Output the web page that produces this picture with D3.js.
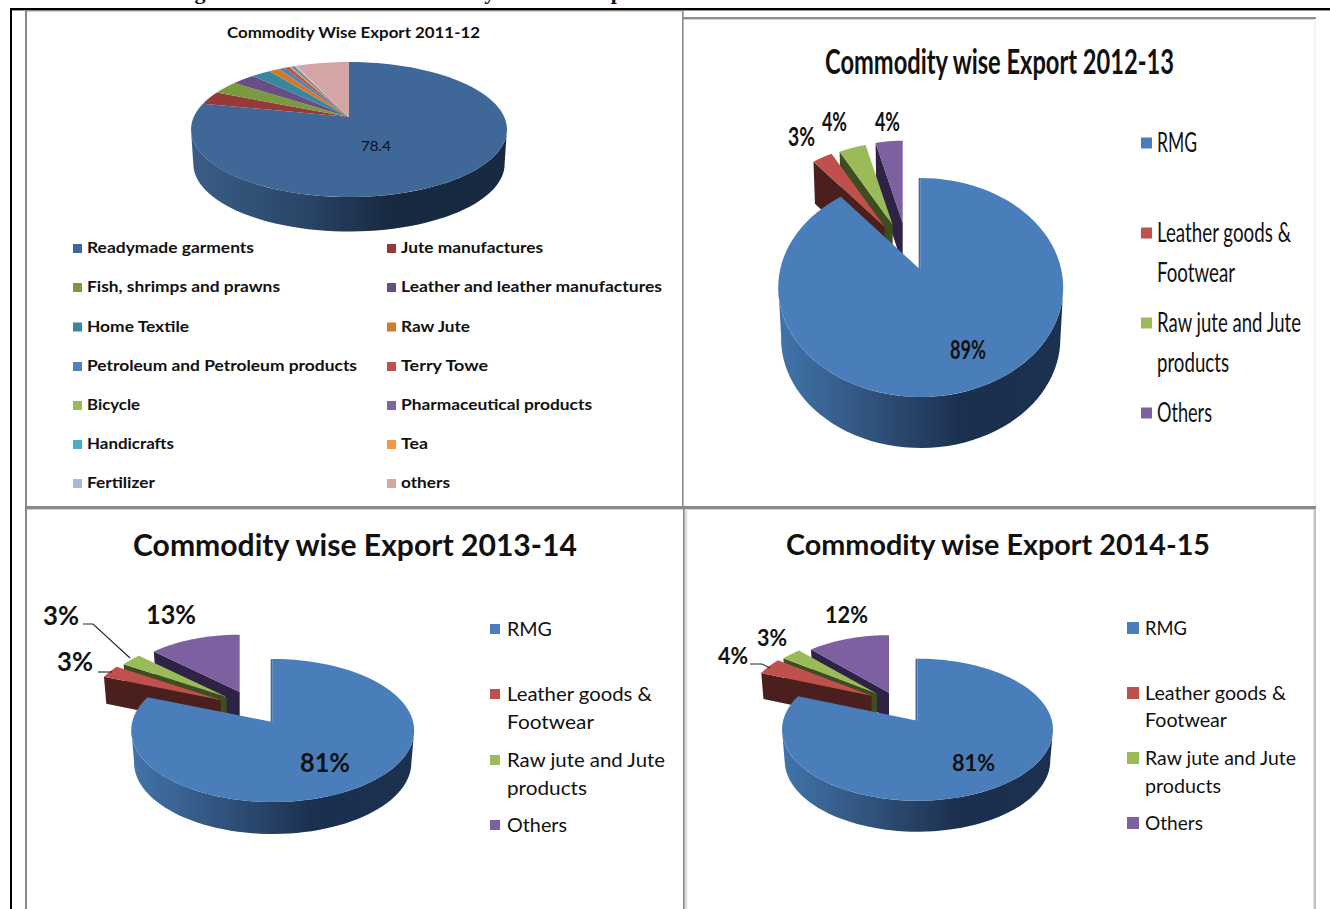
<!DOCTYPE html>
<html>
<head>
<meta charset="utf-8">
<script src="https://cdn.jsdelivr.net/npm/d3@7/dist/d3.min.js"></script>
<style>
  html, body { margin: 0; padding: 0; background: #fff; overflow: hidden; }
  svg { display: block; }
  text { font-family: Lato, "Noto Sans", sans-serif; fill: #111; }
</style>
</head>
<body>
<svg id="sheet" width="1330" height="909"></svg>
<script>
// Export share by commodity, one series per fiscal year
const categories1112 = ["Readymade garments", "Jute manufactures", "Fish, shrimps and prawns",
  "Leather and leather manufactures", "Home Textile", "Raw Jute",
  "Petroleum and Petroleum products", "Terry Towe", "Bicycle", "Pharmaceutical products",
  "Handicrafts", "Tea", "Fertilizer", "others"];
const values1112 = [78.4, 3.2, 3.2, 2.8, 2.4, 1.3, 0.7, 0.6, 0.3, 0.3, 0.1, 0.1, 0.1, 6.5];

// Grouped categories, split where their legend entries wrap
const categoriesGrouped = [["RMG"], ["Leather goods &", "Footwear"], ["Raw jute and Jute", "products"], ["Others"]];
const values1213 = [89, 3, 4, 4];
const values1314 = [81, 3, 3, 13];
const values1415 = [81, 4, 3, 12];

const title1112 = "Commodity Wise Export 2011-12";
const title1213 = "Commodity wise Export 2012-13";
const title1314 = "Commodity wise Export 2013-14";
const title1415 = "Commodity wise Export 2014-15";

const palette1112 = ["#3f6797", "#953a38", "#7a9a3f", "#674e85", "#38879f", "#d07a2e",
  "#4f81bd", "#c0504d", "#9bbb59", "#8064a2", "#4bacc6", "#f79646", "#a8b9d9", "#d4a5a5"];
const paletteGrouped = ["#4a7ebb", "#c0504d", "#9bbb59", "#7d60a0"];
const wallsGrouped = ["#3d6a9f", "#4b1f1e", "#3e4d1f", "#2e2245"];

const sheet = d3.select("#sheet");
const defs = sheet.append("defs");
const pieLayout = d3.pie().sort(null).value(d => d);
const pathOf = d3.line();

// Frames and rules of the page ------------------------------------------------
const rects = [
  [10, 8, 1320, 2.4, "#000"], [10, 8, 2, 901, "#000"],
  [25, 10, 2, 899, "#8a8a8a"], [26, 10, 657, 1.4, "#8a8a8a"],
  [682, 10, 1.6, 499, "#8a8a8a"], [683, 17, 633, 2.4, "#8f8f8f"],
  [1314, 19, 2, 488, "#f3f3f3"], [26, 506, 1290, 3.4, "#8a8a8a"],
  [683, 509, 1.8, 400, "#8a8a8a"], [684.8, 509, 2.4, 400, "#dddddd"],
  [1313.5, 509, 2.5, 400, "#c4c4c4"]
];
sheet.append("g").selectAll("rect").data(rects).join("rect")
  .attr("x", d => d[0]).attr("y", d => d[1]).attr("width", d => d[2]).attr("height", d => d[3])
  .attr("fill", d => d[4]);

// Caption sits above the frame, running off the top edge of the page
const caption = sheet.append("text").attr("y", -1.5)
  .style("font-family", "'Liberation Serif', serif").style("font-weight", 700).style("font-size", "22px");
[["Figure", 175], ["Commodity", 384], ["Export", 585]].forEach(([w, x]) =>
  caption.append("tspan").attr("x", x).text(w));

// Tilted-disc projection: a point on the disc at a clockwise angle from 12 o'clock
function projector(cfg) {
  const k = (cfg.front - cfg.back) / (cfg.front + cfg.back);
  const A = cfg.front * (1 - k);
  const R = cfg.rx * Math.sqrt(1 - k * k);
  return (angle, r = 1) => {
    const u = Math.sin(angle) * r, v = -Math.cos(angle) * r;
    const w = 1 - k * v;
    return [R * u / w, A * v / w];
  };
}

function drawLabel(g, t) {
  g.append("text")
    .attr("x", t.x).attr("y", t.y).attr("dy", "0.35em")
    .attr("textLength", t.w).attr("lengthAdjust", "spacingAndGlyphs")
    .style("font-size", t.size + "px").style("font-weight", t.bold ? 700 : 400)
    .text(t.text);
}

function drawPie(cfg, values, colors, walls) {
  const g = sheet.append("g");
  const proj = projector(cfg);
  const arcs = pieLayout(values);
  const arcPoints = (a0, a1, r) => d3.range(0, 1.0001, 1 / 90).map(t => proj(a0 + (a1 - a0) * t, r));

  // Gradient runs in the disc's own coordinates, centred on its apex
  const gradId = "side" + cfg.id;
  const grad = defs.append("linearGradient").attr("id", gradId)
    .attr("gradientUnits", "userSpaceOnUse")
    .attr("x1", -cfg.rx).attr("x2", cfg.rx).attr("y1", 0).attr("y2", 0);
  cfg.sideStops.forEach(([o, c]) => grad.append("stop").attr("offset", o).attr("stop-color", c));

  // Pulled-out wedges, back to front, each with its dark cut face
  const pulled = cfg.pulled || [];
  d3.range(arcs.length - 1, 0, -1).forEach(i => {
    const off = pulled[i];
    if (!off) return;
    const a = arcs[i];
    const node = g.append("g").attr("transform", `translate(${cfg.ax + off[0]},${cfg.ay + off[1]})`);
    const s = off[2];
    const d = cfg.pulledDepth;
    const p0 = proj(a.startAngle, s);
    node.append("path")
      .attr("d", pathOf([[0, 0], p0, [p0[0] * 0.98, p0[1] + d], [0, d]]) + "Z")
      .attr("fill", walls[i]);
    node.append("path")
      .attr("d", pathOf([[0, 0], ...arcPoints(a.startAngle, a.endAngle, s)]) + "Z")
      .attr("fill", colors[i]);
  });

  // Front rim of the disc, spanning between the widest points of its outline
  const disc = g.append("g").attr("transform", `translate(${cfg.ax},${cfg.ay})`);
  const rimSamples = arcPoints(45 * Math.PI / 180, arcs[0].endAngle, 1);
  const rimTop = rimSamples.slice(d3.maxIndex(rimSamples, p => p[0]), d3.minIndex(rimSamples, p => p[0]) + 1);
  const rimBottom = rimTop.map(([x, y]) => [x * cfg.floor, y + cfg.depth]).reverse();
  disc.append("path").attr("d", pathOf([...rimTop, ...rimBottom]) + "Z").attr("fill", `url(#${gradId})`);

  // Thin visible edge along the 12 o'clock cut
  if (cfg.pulled) {
    disc.append("path").attr("d", pathOf([[-1, 1], [-1, -cfg.back]]))
      .attr("stroke", walls[0]).attr("stroke-width", 2).attr("fill", "none");
  }

  // Top faces of the wedges still seated in the disc
  arcs.forEach((a, i) => {
    if (pulled[i]) return;
    disc.append("path")
      .attr("d", pathOf([[0, 0], ...arcPoints(a.startAngle, a.endAngle, 1)]) + "Z")
      .attr("fill", colors[i]);
  });

  (cfg.leaders || []).forEach(pts => {
    g.append("path").attr("d", pathOf(pts)).attr("fill", "none").attr("stroke", "#222").attr("stroke-width", 1.1);
  });
  (cfg.valueLabels || []).forEach(l => drawLabel(g, {
    ...l, size: cfg.labelSize, bold: cfg.labelBold,
    text: values[l.i] + (cfg.percent ? "%" : "")
  }));
  drawLabel(g, { ...cfg.title, bold: true });
  return g;
}

const darkSide = [[0, "#3a5d87"], [0.35, "#2a4668"], [0.62, "#182a42"], [1, "#182a42"]];
const brightSide = [[0, "#4274ab"], [0.35, "#2f5078"], [0.65, "#1b2f4e"], [1, "#1b3150"]];

// 2011-12: all commodities, two-column legend -----------------------------------
const g1 = drawPie({
  id: 1, ax: 349, ay: 117, rx: 158, back: 55, front: 80, depth: 34.5, floor: 0.985,
  sideStops: darkSide, labelSize: 14, labelBold: false, percent: false,
  valueLabels: [{ i: 0, x: 361, y: 146, w: 30 }],
  title: { text: title1112, x: 227, y: 33, w: 253, size: 15 }
}, values1112, palette1112, []);

const widths1112 = [167, 142, 193, 261, 102, 69, 270, 87, 53, 191, 87, 27, 68, 49];
const rowY1112 = [248, 287, 326.5, 366, 405, 444, 483];
const legend1 = g1.append("g").selectAll("g").data(categories1112).join("g");
legend1.append("rect")
  .attr("x", (d, i) => i % 2 ? 387 : 73)
  .attr("y", (d, i) => rowY1112[Math.floor(i / 2)] - 4)
  .attr("width", 9).attr("height", 9)
  .attr("fill", (d, i) => palette1112[i]);
legend1.append("text")
  .attr("x", (d, i) => i % 2 ? 401 : 87)
  .attr("y", (d, i) => rowY1112[Math.floor(i / 2)])
  .attr("dy", "0.35em")
  .attr("textLength", (d, i) => widths1112[i]).attr("lengthAdjust", "spacingAndGlyphs")
  .style("font-size", "14.5px").style("font-weight", 700)
  .text(d => d);

// Grouped legend: two of the entries wrap onto a second line
function groupedLegend(g, o) {
  categoriesGrouped.forEach((ls, i) => {
    g.append("rect").attr("x", o.markX).attr("y", o.ys[i][0] - o.mark / 2)
      .attr("width", o.mark).attr("height", o.mark).attr("fill", paletteGrouped[i]);
    ls.forEach((line, j) => drawLabel(g, {
      text: line, x: o.textX, y: o.ys[i][j], w: o.widths[i][j], size: o.size
    }));
  });
}

// 2012-13 ---------------------------------------------------------------------
const g2 = drawPie({
  id: 2, ax: 920.7, ay: 270, rx: 142.5, back: 92, front: 127, depth: 51, floor: 0.98,
  sideStops: brightSide, labelSize: 27, labelBold: true, percent: true,
  pulled: [null, [-36, -43, 0.88], [-28, -45, 0.88], [-18, -47, 0.88]], pulledDepth: 42,
  valueLabels: [
    { i: 1, x: 788, y: 137, w: 27 }, { i: 2, x: 822, y: 122, w: 25 },
    { i: 3, x: 875, y: 122, w: 25 }, { i: 0, x: 950, y: 350, w: 36 }
  ],
  title: { text: title1213, x: 825, y: 62, w: 349, size: 34 }
}, values1213, paletteGrouped, wallsGrouped);
groupedLegend(g2, {
  markX: 1141, mark: 11, textX: 1157, size: 27,
  ys: [[143], [233, 273], [323, 363], [413]],
  widths: [[40], [134, 78], [144, 72], [55]]
});

// 2013-14 ---------------------------------------------------------------------
const g3 = drawPie({
  id: 3, ax: 272.7, ay: 722, rx: 141.5, back: 63, front: 80, depth: 32, floor: 0.98,
  sideStops: brightSide, labelSize: 27, labelBold: true, percent: true,
  pulled: [null, [-52, -22, 0.93], [-46, -25, 0.92], [-33, -30, 0.9]], pulledDepth: 27,
  leaders: [[[83, 624], [93, 624], [130, 658]], [[98, 672], [112, 672]]],
  valueLabels: [
    { i: 2, x: 43, y: 616, w: 36 }, { i: 1, x: 57, y: 662, w: 36 },
    { i: 3, x: 146, y: 615, w: 50 }, { i: 0, x: 300, y: 763, w: 50 }
  ],
  title: { text: title1314, x: 133, y: 545, w: 444, size: 31 }
}, values1314, paletteGrouped, wallsGrouped);
groupedLegend(g3, {
  markX: 490, mark: 10, textX: 507, size: 20,
  ys: [[629], [694, 722], [760, 788], [825]],
  widths: [[45], [145, 87], [158, 80], [60]]
});

// 2014-15 ---------------------------------------------------------------------
const g4 = drawPie({
  id: 4, ax: 917.5, ay: 720.7, rx: 135.5, back: 62, front: 80, depth: 31, floor: 0.98,
  sideStops: brightSide, labelSize: 22, labelBold: true, percent: true,
  pulled: [null, [-46, -25, 0.92], [-40.5, -27, 0.92], [-28.5, -28, 0.92]], pulledDepth: 26,
  leaders: [[[750, 664], [762, 664], [770, 668]]],
  valueLabels: [
    { i: 1, x: 718, y: 656, w: 30 }, { i: 2, x: 757, y: 638, w: 30 },
    { i: 3, x: 825, y: 615, w: 43 }, { i: 0, x: 952, y: 763, w: 43 }
  ],
  title: { text: title1415, x: 786, y: 545, w: 424, size: 29 }
}, values1415, paletteGrouped, wallsGrouped);
groupedLegend(g4, {
  markX: 1127, mark: 12, textX: 1145, size: 19,
  ys: [[628], [693, 720], [758, 786], [823]],
  widths: [[42], [141, 82], [151, 76], [58]]
});
</script>
</body>
</html>
